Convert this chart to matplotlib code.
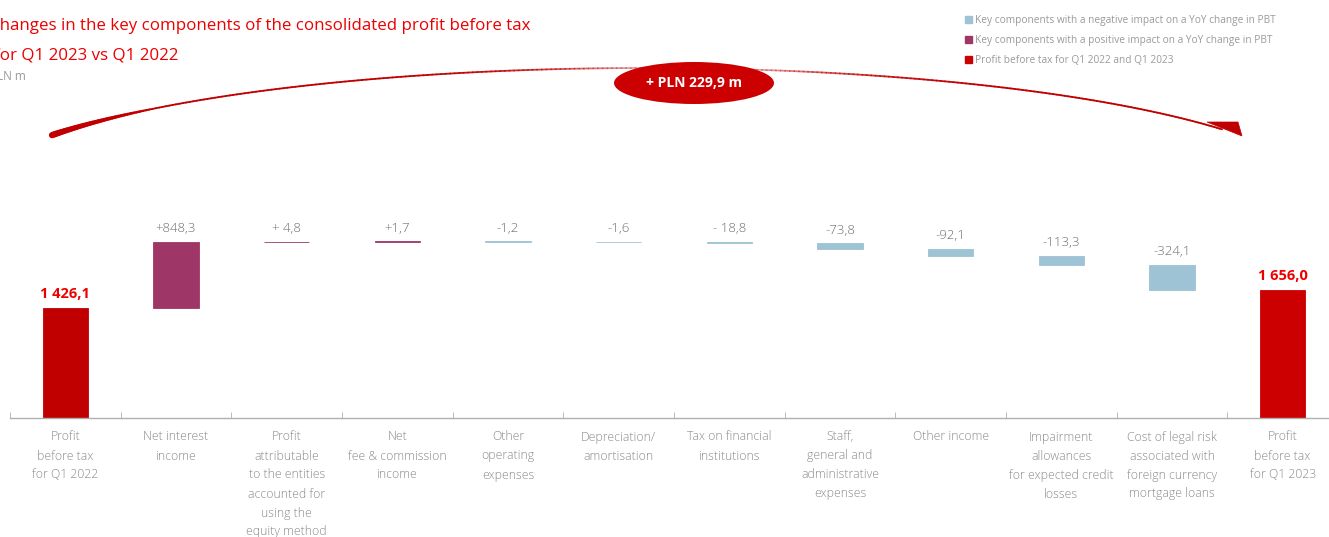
import numpy as np
import matplotlib
matplotlib.use("Agg")
import matplotlib.pyplot as plt
from matplotlib.patches import Ellipse, Patch, Polygon
from matplotlib.collections import LineCollection
from matplotlib.colors import to_rgba

# data (PLN m)
categories = [
    "Profit\nbefore tax\nfor Q1 2022",
    "Net interest\nincome",
    "Profit\nattributable\nto the entities\naccounted for\nusing the\nequity method",
    "Net\nfee & commission\nincome",
    "Other\noperating\nexpenses",
    "Depreciation/\namortisation",
    "Tax on financial\ninstitutions",
    "Staff,\ngeneral and\nadministrative\nexpenses",
    "Other income",
    "Impairment\nallowances\nfor expected credit\nlosses",
    "Cost of legal risk\nassociated with\nforeign currency\nmortgage loans",
    "Profit\nbefore tax\nfor Q1 2023",
]
start_value = 1426.1
changes = [848.3, 4.8, 1.7, -1.2, -1.6, -18.8, -73.8, -92.1, -113.3, -324.1]
end_value = 1656.0
change_labels = ["+848,3", "+ 4,8", "+1,7", "-1,2", "-1,6", "- 18,8",
                 "-73,8", "-92,1", "-113,3", "-324,1"]
total_labels = ["1 426,1", "1 656,0"]
diff_label = "+ PLN 229,9 m"

RED = "#cc0000"
RED_DARK = "#c00000"
PURPLE = "#9e3667"
BLUE = "#9dc3d4"
GREY_TXT = "#8a8a8a"
GREY_VAL = "#6e6e6e"

W, H = 1329, 537
plt.rcParams['font.family'] = ['Open Sans', 'DejaVu Sans']

fig = plt.figure(figsize=(W / 100, H / 100), dpi=100)


def fx(x):
    return x / W


def fy(y):
    return 1 - y / H


# axes: baseline at pixel 418, ~12.92 PLN m per pixel
base_px, top_px = 418, 20
per_px = 12.92
ax = fig.add_axes([fx(10), fy(base_px), 1328 / W, (base_px - top_px) / H])
ax.set_xlim(-0.5, 11.5)
ax.set_ylim(0, (base_px - top_px) * per_px)

bw = 0.41
x = np.arange(len(categories))

# start bar
ax.bar(x[0], start_value, width=bw, color=RED_DARK, edgecolor=RED_DARK, linewidth=0.6)
ax.text(x[0], start_value + 14 * per_px, total_labels[0], ha="center", va="center",
        color="#ee0000", fontsize=10.5, fontweight="bold")

running = start_value
for i, (c, lab) in enumerate(zip(changes, change_labels), start=1):
    bottom = running if c >= 0 else running + c
    col = PURPLE if c >= 0 else BLUE
    ax.bar(x[i], abs(c), bottom=bottom, width=bw, color=col, edgecolor=col, linewidth=0.6)
    top = bottom + abs(c)
    ax.text(x[i], top + 13 * per_px, lab, ha="center", va="center",
            color=GREY_VAL, fontsize=9.5, fontweight="light")
    running += c

ax.bar(x[-1], end_value, width=bw, color=RED, edgecolor=RED, linewidth=0.6)
ax.text(x[-1], end_value + 14 * per_px, total_labels[1], ha="center", va="center",
        color="#ee0000", fontsize=10.5, fontweight="bold")

# axis styling
for s in ["top", "right", "left"]:
    ax.spines[s].set_visible(False)
ax.spines["bottom"].set_color("#b0b0b0")
ax.spines["bottom"].set_linewidth(1.0)
ax.set_yticks([])
ax.set_xticks(x)
ax.set_xticklabels(categories, fontsize=8.8, color=GREY_TXT, linespacing=1.6,
                   va="top", fontweight="light")
ax.tick_params(axis="x", which="major", length=0, pad=9)
ax.set_xticks(np.arange(-0.5, 11, 1.0), minor=True)
ax.tick_params(axis="x", which="minor", direction="in", length=4, color="#b0b0b0")

# title block (cut at the left edge like the original)
fig.text(fx(-11), fy(26), "Changes in the key components of the consolidated profit before tax",
         color="#ec0000", fontsize=12.2, va="center", ha="left")
fig.text(fx(-6), fy(55), "for Q1 2023 vs Q1 2022", color="#ec0000", fontsize=12.2,
         va="center", ha="left")
fig.text(fx(-10), fy(76), "PLN m", color="#9a9a9a", fontsize=8.5, va="center", ha="left")

# legend
handles = [Patch(color=BLUE), Patch(color=PURPLE), Patch(color=RED)]
labels = ["Key components with a negative impact on a YoY change in PBT",
          "Key components with a positive impact on a YoY change in PBT",
          "Profit before tax for Q1 2022 and Q1 2023"]
fig.legend(handles, labels, loc="upper left", bbox_to_anchor=(fx(965), fy(15)),
           bbox_transform=fig.transFigure, frameon=False, fontsize=7.3,
           labelcolor="#9a9a9a", handlelength=0.7, handleheight=0.7,
           handletextpad=0.3, labelspacing=0.9, borderaxespad=0, borderpad=0)

# elliptical arc across the chart (pixel geometry)
cx, cy, a, b = 646, 200, 682, 132
t0 = np.arccos((52 - cx) / a)
t1 = np.arccos((1222 - cx) / a)
t = np.linspace(t0, t1, 300)
px = cx + a * np.cos(t)
py = cy - b * np.sin(t)
pts = np.column_stack([fx(px), fy(py)])
segs = np.stack([pts[:-1], pts[1:]], axis=1)
frac = np.linspace(0, 1, len(segs))
widths = 1.3 + 3.2 * np.clip(1 - frac / 0.12, 0, 1)
base_rgba = np.array(to_rgba(RED_DARK))
fade = np.exp(-((px[:-1] - 694) / 150) ** 2)
cols = np.tile(base_rgba, (len(segs), 1))
cols[:, 3] = 1 - 0.75 * fade
lc = LineCollection(segs, linewidths=widths, colors=cols, transform=fig.transFigure,
                    capstyle="round")
fig.add_artist(lc)
head = Polygon([(fx(1207), fy(122)), (fx(1238), fy(122)), (fx(1242), fy(136))],
               closed=True, transform=fig.transFigure, facecolor=RED_DARK,
               edgecolor=RED_DARK, linewidth=0.5)
fig.add_artist(head)

ell = Ellipse((fx(694), fy(83)), 160 / W, 42 / H, transform=fig.transFigure,
              facecolor=RED, edgecolor="none", zorder=5)
fig.add_artist(ell)
fig.text(fx(694), fy(83), diff_label, ha="center", va="center", color="white",
         fontsize=10, fontweight="bold", zorder=6)

fig.savefig("out.png", dpi=100)
